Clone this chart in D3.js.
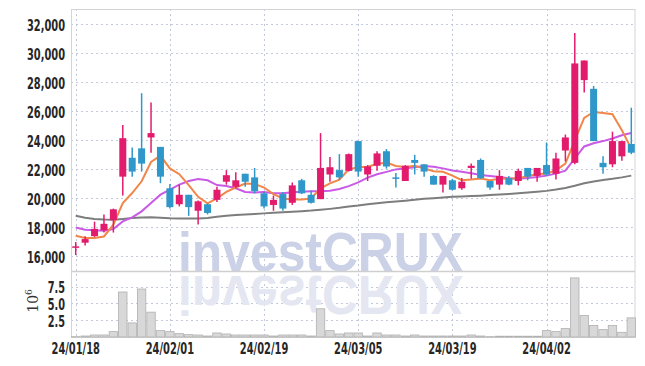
<!DOCTYPE html>
<html>
<head>
<meta charset="utf-8">
<script src="https://cdn.jsdelivr.net/npm/d3@7"></script>
<style>
  body { margin: 0; background: #fff; }
  svg { display: block; }
</style>
</head>
<body>
<div id="chart"></div>
<script>
// trading days (KRX), 24/01/18 .. 24/04/16
const dates = [
  "24/01/18","24/01/19","24/01/22","24/01/23","24/01/24","24/01/25","24/01/26","24/01/29","24/01/30","24/01/31",
  "24/02/01","24/02/02","24/02/05","24/02/06","24/02/07","24/02/08","24/02/13","24/02/14","24/02/15","24/02/16",
  "24/02/19","24/02/20","24/02/21","24/02/22","24/02/23","24/02/26","24/02/27","24/02/28","24/02/29","24/03/04",
  "24/03/05","24/03/06","24/03/07","24/03/08","24/03/11","24/03/12","24/03/13","24/03/14","24/03/15","24/03/18",
  "24/03/19","24/03/20","24/03/21","24/03/22","24/03/25","24/03/26","24/03/27","24/03/28","24/03/29","24/04/01",
  "24/04/02","24/04/03","24/04/04","24/04/05","24/04/08","24/04/09","24/04/11","24/04/12","24/04/15","24/04/16"
];

const open = [
  16600,16900,17350,17750,18450,21450,22750,23400,24150,23500,
  20650,19550,20200,19100,19550,19850,21100,20750,21650,21400,
  20300,19500,20250,19650,21200,20200,19900,21600,21900,21850,
  23900,21600,22200,23200,21400,21150,22600,22300,21500,20900,
  21200,20650,22050,22600,21150,20900,21350,21150,22050,21500,
  22250,21650,23250,22400,28100,27500,22400,22300,22850,23700
];
const high = [
  16950,17350,18350,18850,19250,25000,23450,27200,26550,23500,
  20950,20900,20200,19800,19600,20750,21900,21750,21650,22050,
  20400,20150,20400,21050,21300,20500,24450,22800,23000,23050,
  23900,22250,23200,23350,21700,22250,22950,22300,21550,21500,
  21300,21350,22350,22700,21150,21900,21500,22000,22050,22050,
  23800,23100,24350,31350,29450,27700,22850,24550,23900,26200
];
const low = [
  16050,16700,17300,17600,17600,20150,21450,21800,23100,21000,
  19250,19400,18750,18150,18850,19700,20900,20650,20750,20300,
  19250,19100,19100,19500,20250,19600,19900,21100,21250,21800,
  21450,21150,21850,22000,20700,21150,21600,21450,20900,20350,
  20500,20550,21300,21300,20550,20550,20850,20850,21200,21100,
  21500,21250,22500,22300,27250,23900,21650,22100,22550,23000
];
const close = [
  16650,17150,17850,18200,19200,24100,21800,22350,24450,21450,
  19350,20200,19350,19750,18950,20550,21550,21200,21100,20450,
  19400,19850,19250,20850,20300,19650,22050,22100,21400,23000,
  21800,22150,23050,22150,21350,22200,22400,21800,20900,21500,
  20550,21100,22200,21350,20700,21500,20900,21850,21450,22050,
  21600,22700,24150,29250,29450,23900,22100,23900,23900,23100
];

// moving averages
const ma5 = [
  17380,17220,17220,17330,18140,19630,20320,21130,22460,22900,
  22020,21620,20870,20060,19610,19950,20400,20700,20980,20950,
  20700,20250,19950,19880,19880,19950,20640,20985,21250,21950,
  22100,22140,22320,22420,22180,22120,22200,22020,21820,21780,
  21520,21210,21250,21330,21210,21300,21330,21330,21500,21610,
  21660,21890,22350,23950,25500,25910,25840,25750,24650,23380
];
const ma20 = [
  17950,17790,17750,17720,17840,18370,18640,19060,19630,20210,
  20550,20900,21150,21280,21200,20870,20810,20650,20400,20350,
  20400,20300,20300,20370,20410,20440,20450,20480,20600,20800,
  21060,21380,21610,21780,21950,22030,22100,22180,22130,22020,
  21880,21790,21680,21560,21490,21420,21340,21310,21360,21420,
  21520,21660,21860,22700,23530,23750,23900,24080,24300,24460
];
const ma60 = [
  18750,18620,18540,18490,18480,18540,18600,18640,18650,18620,
  18580,18560,18560,18570,18600,18690,18760,18800,18850,18880,
  18920,18960,18990,19030,19070,19110,19170,19230,19300,19390,
  19460,19550,19610,19680,19730,19790,19860,19920,19970,20020,
  20060,20080,20110,20140,20180,20220,20260,20310,20360,20410,
  20470,20560,20670,20820,21000,21120,21220,21300,21400,21520
];

// volume, millions of shares
const volume = [
  0.05,0.15,0.3,0.3,0.8,6.7,2.1,7.15,3.7,0.95,
  0.8,0.5,0.35,0.3,0.15,0.6,0.45,0.3,0.3,0.3,
  0.3,0.15,0.3,0.3,0.3,0.15,4.2,0.95,0.45,0.6,
  0.6,0.15,0.6,0.3,0.3,0.15,0.3,0.15,0.15,0.15,
  0.15,0.15,0.3,0.15,0.05,0.12,0.12,0.12,0.12,0.12,
  0.95,0.8,1.25,8.8,3.2,1.7,1.1,1.7,0.7,2.85
];

const priceTicks = [16000,18000,20000,22000,24000,26000,28000,30000,32000];
const volTicks = [2.5,5.0,7.5];
const dateTicks = [0,10,20,30,40,50];

const W = 645, H = 366;
const mLeft = 71, mRight = 636, mTop = 9, mSplit = 271, mBottom = 337;
const upColor = "#e31b6d", downColor = "#2f97c9";
const gridColor = "#c3c8db";
const font = "'DejaVu Sans Condensed','DejaVu Sans',sans-serif";

const svg = d3.select("#chart").append("svg")
  .attr("width", W)
  .attr("height", H);

const x = d3.scaleBand().domain(d3.range(dates.length)).range([mLeft, mRight]);
const cx = i => x(i) + x.bandwidth() / 2;
const y = d3.scaleLinear().domain([14950, 33000]).range([mSplit, mTop]);
const yv = d3.scaleLinear().domain([0, 9.83]).range([mBottom, mSplit]);

// grid
svg.append("g").selectAll("line").data(priceTicks).join("line")
  .attr("x1", mLeft).attr("x2", mRight - 1)
  .attr("y1", d => Math.round(y(d)) + 0.5).attr("y2", d => Math.round(y(d)) + 0.5)
  .attr("stroke", gridColor).attr("stroke-dasharray", "2,3");
svg.append("g").selectAll("line").data(volTicks).join("line")
  .attr("x1", mLeft).attr("x2", mRight - 1)
  .attr("y1", d => Math.round(yv(d)) + 0.5).attr("y2", d => Math.round(yv(d)) + 0.5)
  .attr("stroke", gridColor).attr("stroke-dasharray", "2,3");
svg.append("g").selectAll("line").data(dateTicks).join("line")
  .attr("x1", d => Math.round(cx(d)) + 0.5).attr("x2", d => Math.round(cx(d)) + 0.5)
  .attr("y1", mTop).attr("y2", mBottom)
  .attr("stroke", gridColor).attr("stroke-dasharray", "2,3");

// watermark + reflection
const wm = svg.append("g");
wm.append("text")
  .attr("x", 178).attr("y", 271)
  .attr("textLength", 285).attr("lengthAdjust", "spacingAndGlyphs")
  .attr("font-family", "'Liberation Sans',Arial,sans-serif")
  .attr("font-weight", "bold").attr("font-size", 55)
  .attr("fill", "#cbd1e6")
  .text("investCRUX");
wm.append("text")
  .attr("transform", "translate(0,547) scale(1,-1)")
  .attr("x", 178).attr("y", 271)
  .attr("textLength", 285).attr("lengthAdjust", "spacingAndGlyphs")
  .attr("font-family", "'Liberation Sans',Arial,sans-serif")
  .attr("font-weight", "bold").attr("font-size", 55)
  .attr("fill", "#e4e7f1")
  .text("investCRUX");

// frame
svg.append("rect")
  .attr("x", mLeft + 0.5).attr("y", mTop + 0.5)
  .attr("width", mRight - mLeft - 1.5).attr("height", mBottom - mTop)
  .attr("fill", "none").attr("stroke", "#d4d4d4");
svg.append("line")
  .attr("x1", mLeft).attr("x2", mRight - 1)
  .attr("y1", mSplit + 0.5).attr("y2", mSplit + 0.5)
  .attr("stroke", "#cfcfcf").attr("stroke-width", 1.5);

// volume bars
svg.append("g").selectAll("rect").data(volume).join("rect")
  .attr("x", (d, i) => x(i) + 0.5)
  .attr("width", x.bandwidth() - 1)
  .attr("y", d => yv(d))
  .attr("height", d => mBottom - yv(d))
  .attr("fill", "#d8d8d8")
  .attr("stroke", "#b0b0b0")
  .attr("stroke-width", 0.8);

// moving averages
const line = d3.line().x((d, i) => cx(i)).y(d => y(d));
[[ma60, "#7d7d7d"], [ma20, "#c95ae6"], [ma5, "#f0864a"]].forEach(([s, c]) => {
  svg.append("path").datum(s)
    .attr("d", line)
    .attr("fill", "none")
    .attr("stroke", c)
    .attr("stroke-width", 2);
});

// candles
const candles = svg.append("g").selectAll("g").data(d3.range(dates.length)).join("g");
candles.append("line")
  .attr("x1", i => cx(i)).attr("x2", i => cx(i))
  .attr("y1", i => y(high[i])).attr("y2", i => y(low[i]))
  .attr("stroke", i => close[i] >= open[i] ? upColor : downColor)
  .attr("stroke-width", 1.5);
candles.append("rect")
  .attr("x", i => cx(i) - 3.5)
  .attr("width", 7)
  .attr("y", i => y(Math.max(open[i], close[i])))
  .attr("height", i => Math.max(1.5, Math.abs(y(open[i]) - y(close[i]))))
  .attr("fill", i => close[i] >= open[i] ? upColor : downColor);

// axes
const yAxis = svg.append("g")
  .attr("transform", `translate(${mLeft},0)`)
  .call(d3.axisLeft(y).tickValues(priceTicks).tickFormat(d3.format(",")).tickSize(0).tickPadding(6));
const vAxis = svg.append("g")
  .attr("transform", `translate(${mLeft},0)`)
  .call(d3.axisLeft(yv).tickValues(volTicks).tickFormat(d3.format(".1f")).tickSize(0).tickPadding(6));
const xAxis = svg.append("g")
  .attr("transform", `translate(0,${mBottom})`)
  .call(d3.axisBottom(x).tickValues(dateTicks).tickFormat(i => dates[i]).tickSize(0).tickPadding(6));

// narrow label look: squeeze glyphs to the reference widths
const labelWidth = s => s.split("").reduce((w, ch) => w + (/\d/.test(ch) ? 6.9 : 3.5), 0);
[yAxis, vAxis, xAxis].forEach(g => {
  g.select(".domain").remove();
  g.selectAll("text")
    .attr("font-family", font)
    .attr("font-size", 15)
    .attr("font-weight", "bold")
    .attr("fill", "#262626")
    .attr("lengthAdjust", "spacingAndGlyphs")
    .attr("textLength", function() { return labelWidth(this.textContent); });
});
yAxis.selectAll("text").attr("dy", "0.45em");
vAxis.selectAll("text").attr("dy", "0.4em");

svg.append("text")
  .attr("transform", "translate(38,301) rotate(-90)")
  .attr("text-anchor", "middle")
  .attr("font-family", "'DejaVu Serif',serif")
  .attr("font-size", 14)
  .attr("fill", "#333")
  .text("10")
  .append("tspan")
  .attr("dy", -6)
  .attr("font-size", 9)
  .text("6");
</script>
</body>
</html>
